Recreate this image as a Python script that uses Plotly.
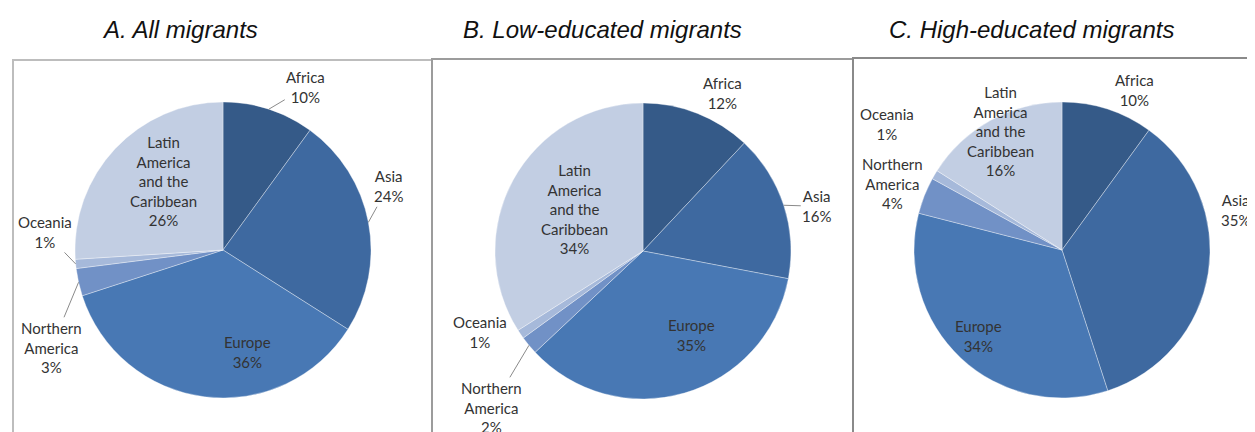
"""Regional origin of migrants — three Excel-style pies (all / low / high educated)."""

import math

import plotly.graph_objects as go

# The page body keeps its default 8px margin, so the figure is drawn 8px in
# from the window's top-left corner; all pixel positions below are window pixels.
WIN_W, WIN_H = 1255, 432
OFF = 8
FW, FH = WIN_W - OFF, WIN_H - OFF

# ── Data ──────────────────────────────────────────────────────────────────────
regions = ["Africa", "Asia", "Europe", "Northern America", "Oceania",
           "Latin America and the Caribbean"]
region_labels = ["Africa", "Asia", "Europe", "Northern<br>America", "Oceania",
                 "Latin<br>America<br>and the<br>Caribbean"]
panel_titles = ["A. All migrants", "B. Low-educated migrants",
                "C. High-educated migrants"]
all_migrants = [10, 24, 36, 3, 1, 26]
low_educated = [12, 16, 35, 2, 1, 34]
high_educated = [10, 35, 34, 4, 1, 16]

# ── Style ─────────────────────────────────────────────────────────────────────
slice_colors = ["#355a88", "#3e69a0", "#4878b4", "#7191c6", "#a6b9da", "#c2cee3"]
LABEL_FONT = dict(family="Lato, 'Open Sans', sans-serif", size=15, color="#333")
TITLE_FONT = dict(family="'Liberation Sans', Arial, sans-serif", size=24, color="#111")
LEADER = "#8a8a8a"

R = 148                                           # pie radius, px
centers = [(223, 250), (643, 251), (1062, 250)]   # pie centres, window px
title_x = [180, 602, 1031]
# picture frames: (left, top, right, colour)
frames = [(13, 60, 432, "#bdbdbd"), (432, 59, 853, "#9c9c9c"), (853, 58, 1265, "#8a8a8a")]

# label offsets from the slice's mid-angle rim point: (dx, dy, leader line?)
label_offsets = [
    [(37, -22, True), (20, -36, True), (43, -45, False),
     (-27, 65, True), (-31, -32, True), (48, 32, False)],
    [(25, -20, False), (33, 1, True), (7, -58, False),
     (-37, 62, True), (-41, -2, False), (61, 29, False)],
    [(27, -19, False), (27, -63, False), (18, -22, False),
     (-32, -12, False), (-48, -51, False), (10, 11, False)],
]


def px(x):
    return (x - OFF) / FW


def py(y):
    return 1 - (y - OFF) / FH


fig = go.Figure()

for i, values in enumerate([all_migrants, low_educated, high_educated]):
    cx, cy = centers[i]
    fig.add_trace(go.Pie(
        labels=regions, values=values, sort=False, direction="clockwise",
        rotation=0, textinfo="none", hoverinfo="label+value",
        marker=dict(colors=slice_colors,
                    line=dict(color="rgba(255,255,255,0.35)", width=1)),
        domain=dict(x=[px(cx - R), px(cx + R)], y=[py(cy + R), py(cy - R)]),
        showlegend=False,
    ))

    # labels anchored at each slice's mid-angle on the rim
    total = sum(values)
    cum = 0.0
    for j, v in enumerate(values):
        mid = math.radians((cum + v / 2) / total * 360)
        cum += v
        rx = cx + R * math.sin(mid)
        ry = cy - R * math.cos(mid)
        dx, dy, leader = label_offsets[i][j]
        text = f"{region_labels[j]}<br>{v}%"
        if leader:
            fig.add_annotation(
                x=px(rx), y=py(ry), xref="paper", yref="paper",
                text=text, showarrow=True, ax=dx, ay=dy,
                arrowhead=0, arrowwidth=1, arrowcolor=LEADER,
                font=LABEL_FONT, align="center",
            )
        else:
            fig.add_annotation(
                x=px(rx), y=py(ry), xref="paper", yref="paper",
                text=text, showarrow=False, xshift=dx, yshift=-dy,
                xanchor="center", yanchor="middle",
                font=LABEL_FONT, align="center",
            )

    fig.add_annotation(
        x=px(title_x[i]), y=py(29), xref="paper", yref="paper",
        text=f"<i>{panel_titles[i]}</i>", showarrow=False,
        xanchor="center", yanchor="middle", font=TITLE_FONT,
    )

for left, top, right, col in frames:
    fig.add_shape(type="rect", xref="paper", yref="paper",
                  x0=px(left), x1=px(right), y0=-0.2, y1=py(top),
                  line=dict(color=col, width=2), layer="below")

fig.update_layout(
    width=FW, height=FH,
    margin=dict(l=0, r=0, t=0, b=0),
    paper_bgcolor="white", plot_bgcolor="white",
)

fig.write_html("out.html")
